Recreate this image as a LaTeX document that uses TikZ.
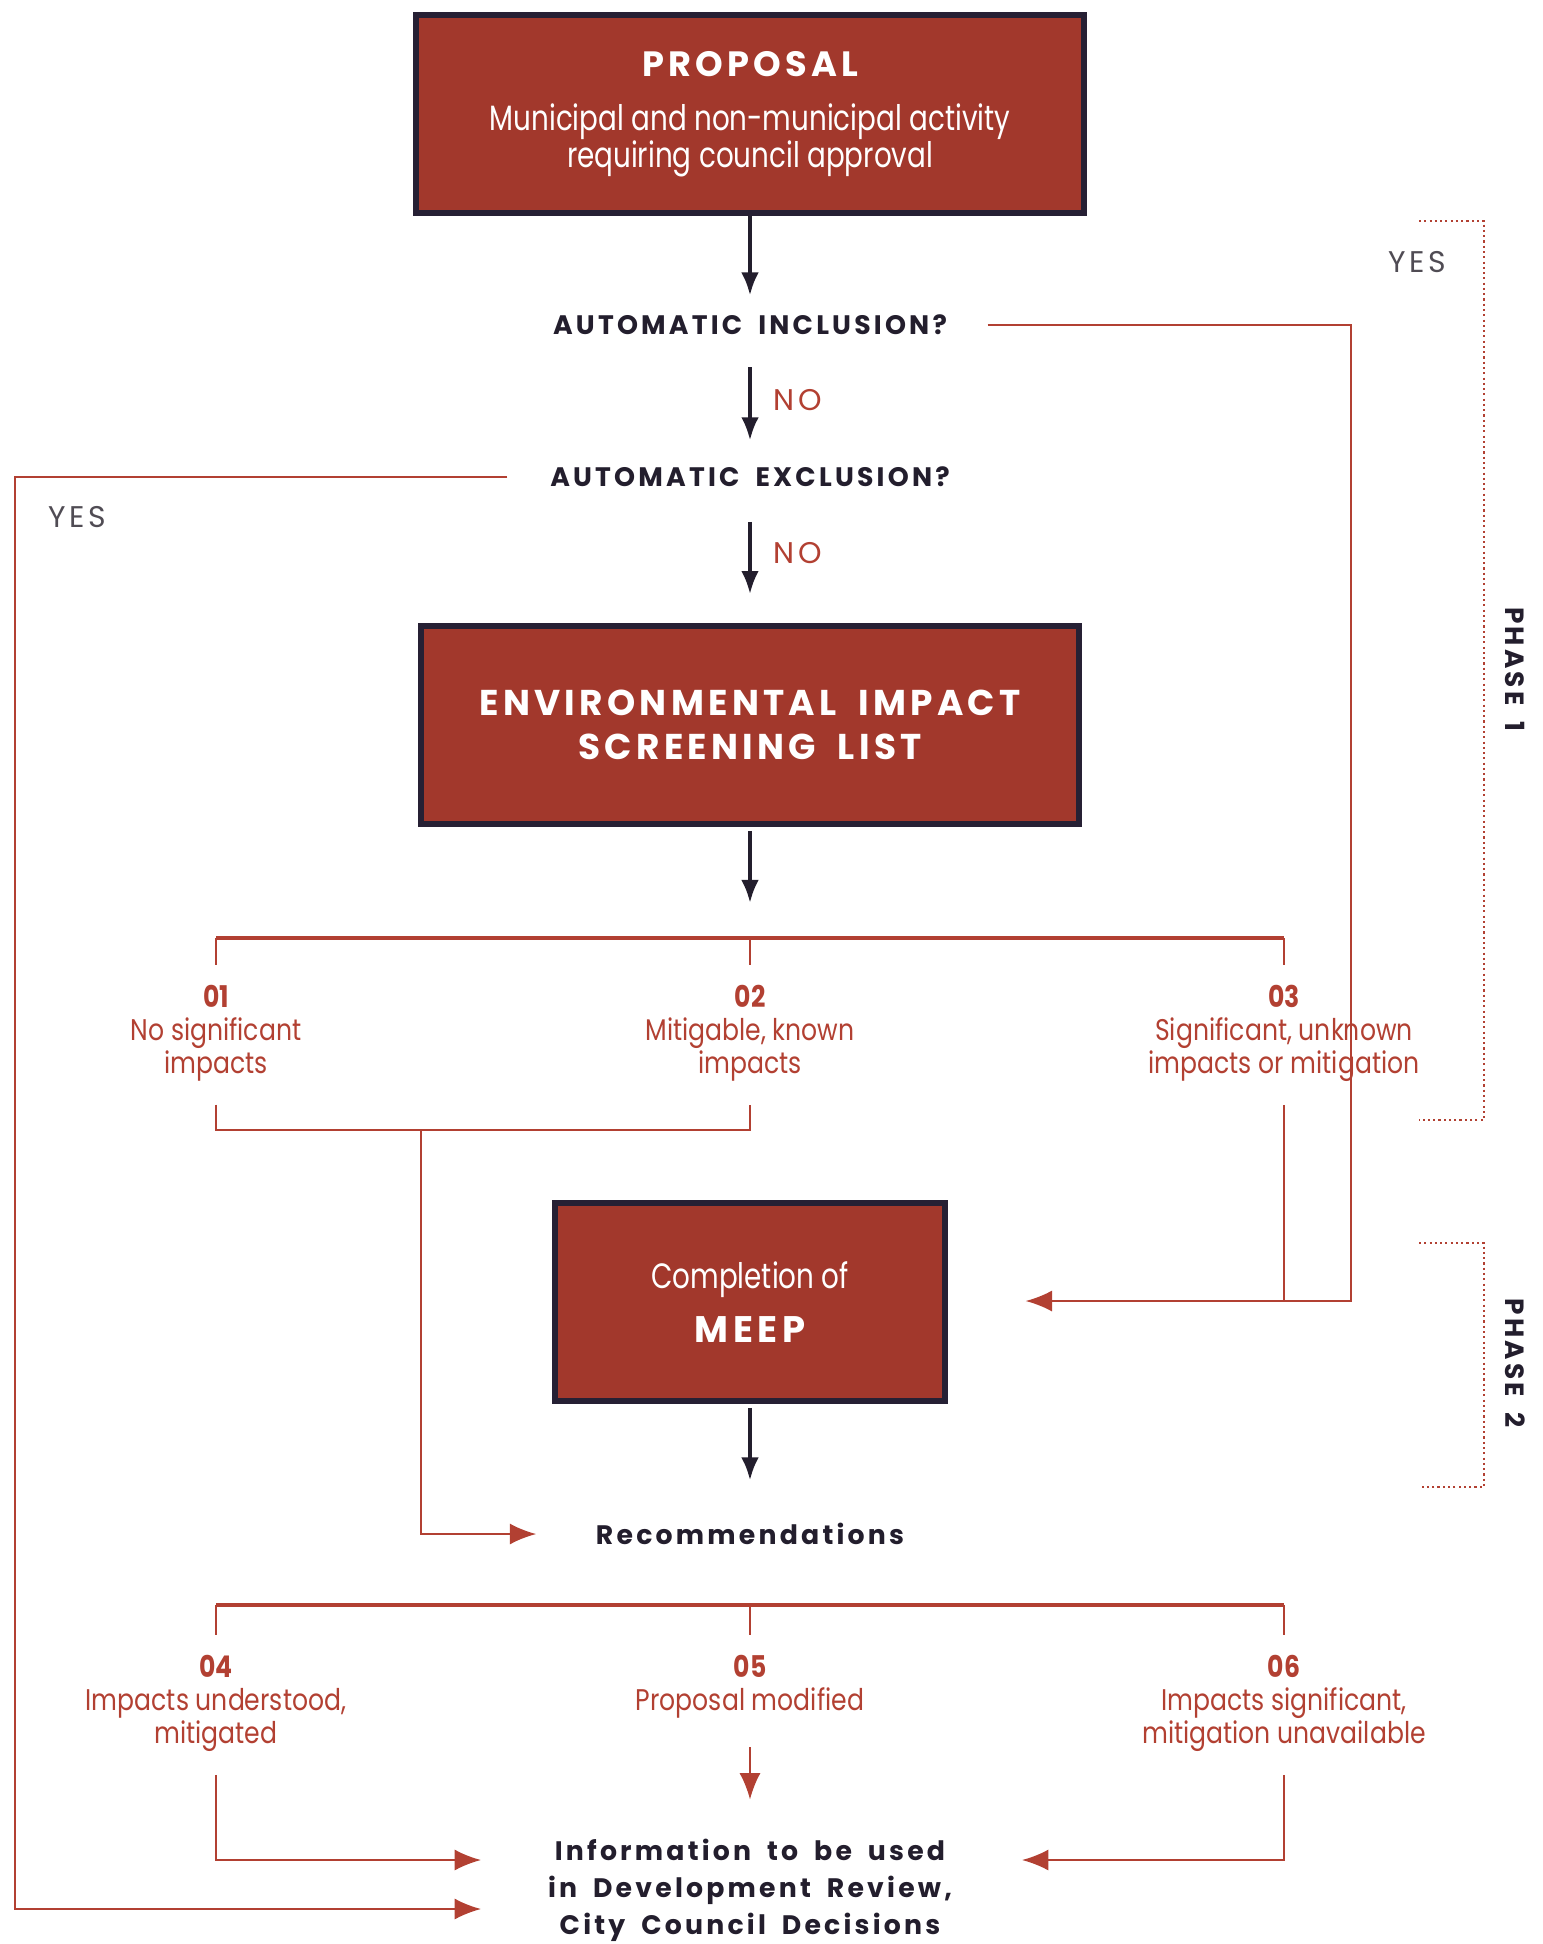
\documentclass[tikz,border=0pt]{standalone}
\usepackage{fontspec}
\setmainfont{Poppins}
\newfontfamily\condfont{Poppins}[FakeStretch=0.84]
\newfontfamily\boxfont{Poppins}[FakeStretch=0.79]
\newfontfamily\spacedfont{Poppins}[LetterSpace=12, WordSpace=1.8]
\usetikzlibrary{arrows.meta}
\definecolor{boxred}{RGB}{162,56,44}
\definecolor{boxedge}{RGB}{38,32,52}
\definecolor{linered}{RGB}{178,64,50}
\definecolor{inkdark}{RGB}{35,30,45}
\definecolor{yesgray}{RGB}{80,76,84}

\begin{document}
\begin{tikzpicture}[x=0.01cm, y=-0.01cm, >=Latex,
    bigbox/.style={draw=boxedge, line width=1.8pt, fill=boxred, text=white, align=center, inner sep=0pt},
    question/.style={text=inkdark, font=\spacedfont\bfseries\fontsize{7.6}{10.5}\selectfont, align=center, inner sep=0pt},
    outcome/.style={text=linered, font=\condfont\fontsize{8.5}{9.4}\selectfont, align=center, inner sep=0pt},
    answer/.style={font=\spacedfont\fontsize{8.5}{10}\selectfont, inner sep=0pt},
    phaselabel/.style={text=inkdark, font=\spacedfont\bfseries\fontsize{7.5}{8}\selectfont, inner sep=0pt, rotate=-90},
    redline/.style={draw=linered, line width=0.6pt},
    branch/.style={draw=linered, line width=1pt},
    darrow/.style={draw=inkdark, line width=1pt, -{Latex[length=6.5pt, width=5pt]}},
    rarrow/.style={redline, -{Latex[length=7.5pt, width=6pt]}},
    phase/.style={draw=linered, line width=0.7pt, dash pattern=on 0.6pt off 0.9pt}]
  \useasboundingbox (0,0) rectangle (1543,1944);

  \node[bigbox, minimum width=6.67cm, minimum height=1.98cm, font=\boxfont\fontsize{10}{10.5}\selectfont] (proposal) at (750,114)
    {{\spacedfont\bfseries\fontsize{10}{12}\selectfont PROPOSAL}\\[5pt] Municipal and non-municipal activity\\ requiring council approval};
  \node[question] (incl) at (750,325) {AUTOMATIC INCLUSION?};
  \node[question] (excl) at (750,477) {AUTOMATIC EXCLUSION?};
  \node[bigbox, minimum width=6.58cm, minimum height=1.98cm, font=\spacedfont\bfseries\fontsize{10.2}{12.5}\selectfont] (screen) at (750,725)
    {ENVIRONMENTAL IMPACT\\SCREENING LIST};
  \node[bigbox, minimum width=3.9cm, minimum height=1.98cm, font=\boxfont\fontsize{10}{15.6}\selectfont] (meep) at (750,1302)
    {Completion of\\{\spacedfont\bfseries\fontsize{10.5}{12}\selectfont MEEP}};
  \node[question] (rec) at (750,1534) {Recommendations};
  \node[question] (info) at (750,1890) {Information to be used\\in Development Review,\\City Council Decisions};

  \node[outcome] (o01) at (216,1033) {\textbf{01}\\No significant\\impacts};
  \node[outcome] (o02) at (750,1033) {\textbf{02}\\Mitigable, known\\impacts};
  \node[outcome] (o03) at (1284,1033) {\textbf{03}\\Significant, unknown\\impacts or mitigation};
  \node[outcome] (o04) at (216,1703) {\textbf{04}\\Impacts understood,\\mitigated};
  \node[outcome] (o05) at (750,1687) {\textbf{05}\\Proposal modified};
  \node[outcome] (o06) at (1284,1703) {\textbf{06}\\Impacts significant,\\mitigation unavailable};

  \node[answer, text=linered, anchor=west] (no1) at (773,400) {NO};
  \node[answer, text=linered, anchor=west] (no2) at (773,553) {NO};
  \node[answer, text=yesgray] (yesl) at (77,517) {YES};
  \node[answer, text=yesgray] (yesr) at (1417,262) {YES};
  \node[phaselabel] (ph1) at (1515,669) {PHASE 1};
  \node[phaselabel] (ph2) at (1515,1363) {PHASE 2};

  \coordinate (split) at (750,938);
  \coordinate (gather) at (421,1130);
  \coordinate (incturn) at (1351,1301);
  \coordinate (split2) at (750,1605);
  \coordinate (in04) at (481,1860);
  \coordinate (in06) at (1022,1860);
  \coordinate (yesturn) at (15,1909);
  \coordinate (inyes) at (481,1909);
  \coordinate (p1top) at (1419,221);
  \coordinate (p1bot) at (1419,1120);
  \coordinate (p2top) at (1419,1243);
  \coordinate (p2bot) at (1419,1487);

  \draw[darrow, shorten >=5.4pt] (proposal) -- (incl);
  \draw[darrow, shorten <=9pt, shorten >=7.4pt] (incl) -- (excl);
  \draw[darrow, shorten <=9.7pt, shorten >=8.2pt] (excl) -- (screen);
  \draw[darrow, shorten <=1pt, shorten >=10pt] (screen) -- (split);
  \draw[darrow, shorten <=1pt, shorten >=12pt] (meep) -- (rec);

  \draw[branch] (o01.north |- split) -- (o03.north |- split);
  \foreach \o in {o01,o02,o03}
    \draw[redline, shorten >=5.5pt] (\o.north |- split) -- (\o.north);
  \draw[redline, shorten <=6.5pt, shorten >=6.5pt] (o01.south) |- (o02.south |- gather) -- (o02.south);
  \draw[rarrow, shorten >=16.8pt] (gather) |- (rec.west);
  \draw[rarrow, shorten <=11.4pt, shorten >=22pt] (incl.east) -| (incturn) -- (meep.east |- incturn);
  \draw[redline, shorten <=6.5pt] (o03.south) -- (o03.south |- incturn);

  \draw[branch] (o04.north |- split2) -- (o06.north |- split2);
  \foreach \o in {o04,o05,o06}
    \draw[redline, shorten >=5.5pt] (\o.north |- split2) -- (\o.north);
  \draw[rarrow, shorten <=6.5pt] (o04.south) |- (in04);
  \draw[rarrow, shorten <=8pt, shorten >=11pt] (o05.south) -- (info.north);
  \draw[rarrow, shorten <=6.5pt] (o06.south) |- (in06);
  \draw[rarrow, shorten <=12pt] (excl.west) -| (yesturn) -- (inyes);

  \draw[phase] (p1top) -- ++(65,0) |- (p1bot);
  \draw[phase] (p2top) -- ++(65,0) |- (p2bot);
\end{tikzpicture}
\end{document}
